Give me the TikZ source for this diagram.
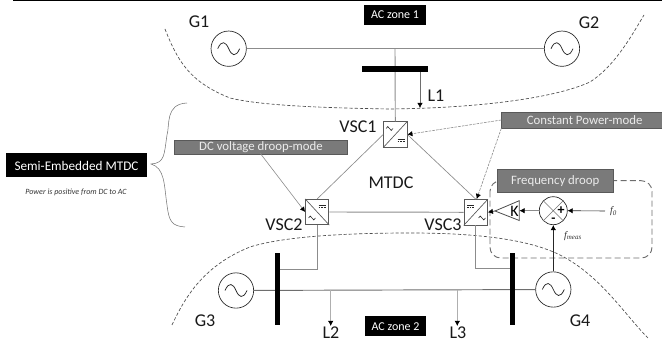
\documentclass[tikz,border=0pt]{standalone}
\usepackage{fontspec}
\setmainfont{Carlito}
\newfontfamily\serifit{Liberation Serif}
\usetikzlibrary{arrows.meta}
\definecolor{ln}{HTML}{8C8C8C}
\definecolor{lnd}{HTML}{6E6E6E}
\definecolor{lbox}{HTML}{7A7A7A}
\tikzset{
 x=0.75pt,y=-0.75pt,
 wire/.style={draw=ln,line width=0.7pt},
 arr/.style={-{Latex[length=3.8pt,width=4pt,black]},line width=0.45pt},
 zone/.style={draw=black!70,dash pattern=on 2.4pt off 1.5pt,line width=0.5pt},
 gen/.style={circle,draw=black!85,line width=0.5pt,minimum size=26.5pt,inner sep=0pt,fill=white},
 bus/.style={fill=black,draw=none,inner sep=0pt},
 blackbox/.style={fill=black,text=white,inner sep=0pt,font=\fontsize{9}{10}\selectfont},
 greybox/.style={fill=lbox,draw=black!65,line width=0.5pt,text=white!92!black,inner sep=0pt,font=\fontsize{9.6}{11}\selectfont},
 lab/.style={inner sep=0pt,font=\fontsize{13.5}{15}\selectfont,text=black!90},
 conv/.style={draw=black!65,fill=white,line width=0.6pt,minimum width=17.5pt,minimum height=19pt,inner sep=0pt},
 fsym/.style={inner sep=0pt,text=black!80,font=\serifit\itshape\fontsize{7.5}{8}\selectfont},
}
\newcommand{\sinewave}[1]{\begin{scope}[shift={(#1)}]\draw[black!85,line width=0.55pt] (-11,0) .. controls (-7,-9) and (-3,-7) .. (0,0) .. controls (3,7) and (7,9) .. (11,0);\end{scope}}
\newcommand{\smallac}[1]{\begin{scope}[shift={(#1)}]\draw[black!85,line width=0.45pt] (-3.5,0) .. controls (-2.5,-2.5) and (-1,-2.5) .. (0,0) .. controls (1,2.5) and (2.5,2.5) .. (3.5,0);\end{scope}}
\newcommand{\smalldc}[1]{\begin{scope}[shift={(#1)}]\draw[black!85,line width=0.45pt] (-3.5,-1) -- (3.5,-1);\draw[black!85,line width=0.45pt] (-3.5,1) -- (-1.6,1) (-0.8,1) -- (0.8,1) (1.6,1) -- (3.5,1);\end{scope}}
\begin{document}
\begin{tikzpicture}
\useasboundingbox (0,0) rectangle (662,341);
\draw[black,line width=1pt] (13,0.5) -- (662,0.5);
% zones
\draw[zone] (165,29) .. controls (178,62) and (190,82) .. (230,98) .. controls (262,106) and (330,108) .. (390,109) .. controls (480,108) and (555,98) .. (590,82) .. controls (615,66) and (632,35) .. (644,15);
\draw[zone] (172,325) .. controls (186,295) and (205,265) .. (250,247) .. controls (285,236) and (350,233) .. (410,233) .. controls (480,233) and (530,240) .. (560,255) .. controls (600,275) and (625,315) .. (648,338);
% brace
\draw[draw=black!55,line width=0.4pt] (187,103) .. controls (165,104) and (170,125) .. (167,135) .. controls (164,155) and (165,163) .. (151,164) .. controls (165,168) and (164,185) .. (167,205) .. controls (169,222) and (172,226) .. (185,227);
% nodes
\node[blackbox,minimum width=46pt,minimum height=15pt] (z1) at (395,15) {AC zone 1};
\node[blackbox,minimum width=46pt,minimum height=15pt] (z2) at (395.5,326.5) {AC zone 2};
\node[blackbox,minimum width=106pt,minimum height=18pt,font=\fontsize{9.9}{11}\selectfont] (semi) at (76.5,165.5) {Semi-Embedded MTDC};
\node[inner sep=0pt,font=\fontsize{6}{7}\itshape\selectfont,text=black!80] (pos) at (76,192) {Power is positive from DC to AC};
\node[gen] (g1) at (228.7,48.7) {};
\node[gen] (g2) at (562,48.7) {};
\node[gen] (g3) at (236,290.5) {};
\node[gen] (g4) at (553.3,289.5) {};
\node[lab] (lg1) at (199,22) {G1};
\node[lab] (lg2) at (589,23) {G2};
\node[lab] (lg3) at (205,321) {G3};
\node[lab] (lg4) at (580,321) {G4};
\node[lab] (l1) at (436,96) {L1};
\node[lab] (l2) at (331,332.5) {L2};
\node[lab] (l3) at (458,332.5) {L3};
\node[lab] (lv1) at (358,127) {VSC1};
\node[lab] (lv2) at (284,225) {VSC2};
\node[lab] (lv3) at (443,225) {VSC3};
\node[lab] (mtdc) at (391,183) {MTDC};
\node[greybox,minimum width=130pt,minimum height=10.5pt] (dcbox) at (261,147) {DC voltage droop-mode};
\node[greybox,minimum width=120.5pt,minimum height=12pt] (cpbox) at (582,120) {\hspace*{4pt}Constant Power-mode};
\node[conv] (v1) at (395.3,134.5) {};
\node[conv] (v2) at (317.2,212) {};
\node[conv] (v3) at (475.8,212.3) {};
\coordinate (j1) at (395,48.7);
\coordinate (j2) at (279,269);
\coordinate (j3) at (511,268);
\coordinate (l1s) at (420,70);
\coordinate (l1e) at (420,108);
\coordinate (l2t) at (330.7,290.5);
\coordinate (l2e) at (330.7,326);
\coordinate (l3t) at (457.3,290.5);
\coordinate (l3e) at (457.3,326);
\coordinate (dcs) at (260,153);
\coordinate (v3t) at (476.7,199);
% dashed controller frame
\draw[draw=lnd,dash pattern=on 4.5pt off 2.5pt,line width=0.7pt,rounded corners=8pt] (490,180.7) rectangle (652,258);
\node[greybox,minimum width=87.5pt,minimum height=17pt,font=\fontsize{9.6}{11}\selectfont] (fbox) at (555.2,180.8) {Frequency droop};
% wires
\draw[wire] (g1) -- (g2);
\draw[wire] (j1) -- (v1.north);
\draw[arr,draw=lnd] (l1s) -- (l1e);
\draw[wire,line width=0.5pt] (v1.west) -- (v2.north);
\draw[wire,line width=0.5pt] (v1.east) -- (v3.north);
\draw[wire] (v2.east) -- (v3.west);
\draw[wire] (v2.south) |- (j2);
\draw[wire] (v3.south) |- (j3);
\draw[wire,draw=lnd] (g3) -- (g4);
\node[bus,minimum width=49pt,minimum height=4pt] (b1) at (395,69) {};
\node[bus,minimum width=4pt,minimum height=54pt] (b3) at (277.3,289) {};
\node[bus,minimum width=4pt,minimum height=54pt] (b4) at (512.7,289) {};
\draw[arr,draw=ln!70] (l2t) -- (l2e);
\draw[arr,draw=ln!70] (l3t) -- (l3e);
\sinewave{g1}\sinewave{g2}\sinewave{g3}\sinewave{g4}
% converter internals
\draw[draw=black!65,line width=0.5pt] (v1.south west) -- (v1.north east);
\draw[draw=black!65,line width=0.5pt] (v2.north west) -- (v2.south east);
\draw[draw=black!65,line width=0.5pt] (v3.south west) -- (v3.north east);
\smallac{389.5,128.5}\smalldc{401,140}
\smallac{312,218}\smalldc{322,206.5}
\smallac{482,218}\smalldc{470.5,206.5}
% mode arrows
\draw[arr,draw=ln] (dcs) -- (v2.west);
\draw[arr,draw=ln,dash pattern=on 2pt off 0.8pt] (cpbox.west) -- (v1.east);
\draw[arr,draw=ln,dash pattern=on 2pt off 0.8pt] (cpbox.south west) -- (v3t);
% control
\node[circle,draw=black!85,fill=white,line width=0.5pt,minimum size=21pt,inner sep=0pt] (sum) at (553.3,210.7) {};
\draw[draw=black!55,line width=0.4pt] (sum.north west) -- (sum.south east) (sum.north east) -- (sum.south west);
\node[inner sep=0pt,font=\bfseries\fontsize{10.5}{11}\selectfont] (pl) at (561,211) {+};
\node[inner sep=0pt,font=\bfseries\fontsize{10}{11}\selectfont] (mi) at (553.3,220) {-};
\coordinate (tip) at (495,211);
\draw[draw=black!70,fill=white,line width=0.6pt] (tip) -- (519.3,200.7) -- (519.3,220.5) -- cycle;
\node[inner sep=0pt,font=\fontsize{12}{13}\selectfont] (k) at (514.5,211) {K};
\draw[arr,draw=black!80] (tip) -- (v3.east);
\draw[arr,draw=ln] (sum.west) -- (519.5,210.7);
\node[fsym] (f0) at (613.5,211.5) {f\textsubscript{0}};
\node[fsym] (fm) at (573,236) {f\textsubscript{meas}};
\draw[arr,black!85] (605,211) -- (sum.east);
\draw[arr,black!85] (g4.north) -- (sum.south);
\end{tikzpicture}
\end{document}
